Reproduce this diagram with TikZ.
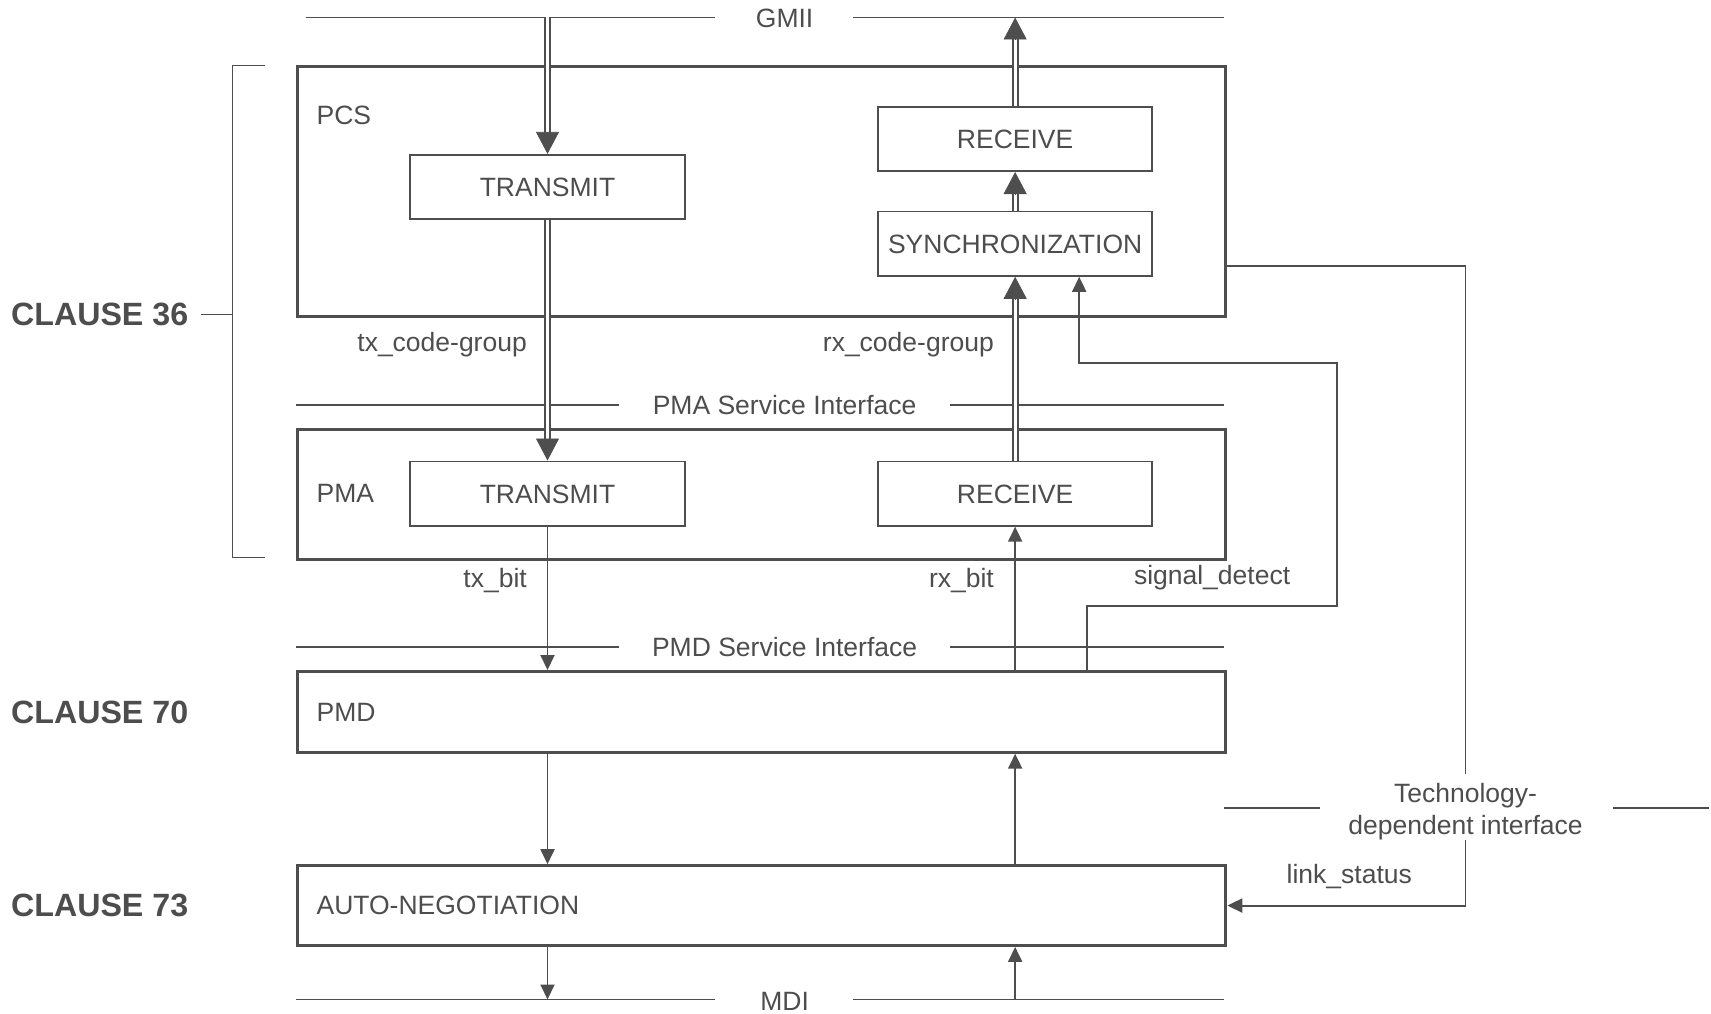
\documentclass[tikz,border=0pt]{standalone}
\usepackage{fontspec}
\setmainfont{Liberation Sans}
\usetikzlibrary{arrows.meta,calc}
\definecolor{lc}{RGB}{78,78,78}
\definecolor{tc}{RGB}{77,77,77}
\tikzset{
  txt/.style={text=tc, font=\fontsize{26.5}{32}\selectfont, inner sep=0pt, text height=19pt, text depth=0pt},
  clause/.style={text=tc, font=\fontsize{32.2}{36}\selectfont\bfseries, inner sep=0pt, text height=23pt, text depth=0pt, anchor=west},
  bigbox/.style={draw=lc, line width=3pt, anchor=north west, inner sep=0pt},
  smallbox/.style={txt, draw=lc, line width=1.8pt, anchor=north west, inner sep=0pt},
  ifl/.style={draw=lc, line width=1.6pt},
  conn/.style={draw=lc, line width=1.9pt},
  sarrow/.style={conn, -{Triangle[length=15pt,width=14pt]}},
  dbl/.style={draw=lc, line width=2pt, double=white, double distance=3pt},
  bigtip/.style={draw=lc, fill=lc, line width=0.8pt, -{Triangle[length=22pt,width=23pt]}}
}
\newcommand\dblarr[2]{\draw[dbl,shorten >=20pt] (#1) -- (#2); \draw[bigtip] ($(#2)!22pt!(#1)$) -- (#2);}
\begin{document}
\begin{tikzpicture}[x=1pt,y=-1pt]
\useasboundingbox (0,0) rectangle (1711,1014);

% main boxes
\node[bigbox, minimum width=928.6pt, minimum height=249.9pt] (pcs) at (295.7,65.5) {};
\node[bigbox, minimum width=928.6pt, minimum height=129.8pt] (pma) at (295.7,427.8) {};
\node[bigbox, minimum width=928.6pt, minimum height=80.7pt] (pmd) at (295.7,670) {};
\node[bigbox, minimum width=928.6pt, minimum height=79.7pt] (an) at (295.7,864.2) {};

% inner boxes
\node[smallbox, minimum width=275.2pt, minimum height=64.3pt] (pcstx) at (409,153.9) {TRANSMIT};
\node[smallbox, minimum width=273.9pt, minimum height=64.4pt] (pcsrx) at (877.3,105.8) {RECEIVE};
\node[smallbox, minimum width=273.9pt, minimum height=64.4pt] (sync) at (877.3,210.6) {SYNCHRONIZATION};
\node[smallbox, minimum width=275.2pt, minimum height=64.4pt] (pmatx) at (409,460.5) {TRANSMIT};
\node[smallbox, minimum width=273.9pt, minimum height=64.4pt] (pmarx) at (877.3,460.5) {RECEIVE};

% box labels
\node[txt,anchor=west] (lpcs) at (316.4,114.6) {PCS};
\node[txt,anchor=west] (lpma) at (316.4,493.2) {PMA};
\node[txt,anchor=west] (lpmd) at (316.4,711.5) {PMD};
\node[txt,anchor=west] (lan) at (316.4,904.6) {AUTO-NEGOTIATION};

% interfaces
\node[txt] (gmii) at (784.6,18) {GMII};
\node[txt] (pmasi) at (784.6,405) {PMA Service Interface};
\node[txt] (pmdsi) at (784.6,647) {PMD Service Interface};
\node[txt] (mdi) at (784.6,1001) {MDI};
\coordinate (gL1) at (305.5,17.5);  \coordinate (gL2) at (714.7,17.5);
\coordinate (gR1) at (853,17.5);    \coordinate (gR2) at (1224.3,17.5);
\coordinate (aL1) at (295.7,404.8); \coordinate (aL2) at (618.7,404.8);
\coordinate (aR1) at (950.4,404.8); \coordinate (aR2) at (1224.3,404.8);
\coordinate (dL1) at (295.7,647.1); \coordinate (dL2) at (618.7,647.1);
\coordinate (dR1) at (950.4,647.1); \coordinate (dR2) at (1224.3,647.1);
\coordinate (mL1) at (295.7,999.5); \coordinate (mL2) at (714.7,999.5);
\coordinate (mR1) at (853.3,999.5); \coordinate (mR2) at (1224.3,999.5);
\draw[ifl] (gL1) -- (gL2) (gR1) -- (gR2);
\draw[ifl] (aL1) -- (aL2) (aR1) -- (aR2);
\draw[ifl] (dL1) -- (dL2) (dR1) -- (dR2);
\draw[ifl] (mL1) -- (mL2) (mR1) -- (mR2);

% signal labels
\node[txt,anchor=east] (ltxcg) at (527,341.5) {tx\_code-group};
\node[txt,anchor=east] (lrxcg) at (994,341.5) {rx\_code-group};
\node[txt,anchor=east] (ltxb) at (527,578.3) {tx\_bit};
\node[txt,anchor=east] (lrxb) at (994,578.3) {rx\_bit};
\node[txt,anchor=west] (lsd) at (1133.8,575) {signal\_detect};
\node[txt,anchor=west] (lls) at (1286.5,873.5) {link\_status};

% clauses
\node[clause] (c36) at (10.9,314.3) {CLAUSE 36};
\node[clause] (c70) at (10.9,711.5) {CLAUSE 70};
\node[clause] (c73) at (10.9,904.6) {CLAUSE 73};
\coordinate (brT) at (265.2,65.5);
\coordinate (brB) at (265.2,557.6);
\coordinate (brM) at (232.4,314.3);
\coordinate (brS) at (200.8,314.3);
\draw[ifl] (brT) -- (232.4,65.5) -- (232.4,557.6) -- (brB);
\draw[ifl] (brS) -- (brM);

% double arrows
\coordinate (gtx) at (pcstx.north |- gL1);
\coordinate (grx) at (pcsrx.north |- gL1);
\dblarr{gtx}{pcstx.north}
\dblarr{pcsrx.north}{grx}
\dblarr{sync.north}{pcsrx.south}
\dblarr{pcstx.south}{pmatx.north}
\dblarr{pmarx.north}{sync.south}

% single arrows
\draw[sarrow] (pmatx.south) -- (pmatx.south |- pmd.north);
\draw[sarrow] (pmarx.south |- pmd.north) -- (pmarx.south);
\draw[sarrow] (pmatx.south |- pmd.south) -- (pmatx.south |- an.north);
\draw[sarrow] (pmarx.south |- an.north) -- (pmarx.south |- pmd.south);
\coordinate (mtx) at (pmatx.south |- mL1);
\coordinate (mrx) at (pmarx.south |- mL1);
\draw[sarrow] (pmatx.south |- an.south) -- (mtx);
\draw[sarrow] (mrx) -- (pmarx.south |- an.south);

% signal_detect
\coordinate (sdA) at (1086.8,606);
\coordinate (sdB) at (1336.7,363.4);
\coordinate (sdC) at (1079.2,363.4);
\draw[sarrow] (pmd.north -| sdA) -- (sdA) -| (sdB) -- (sdC) -- (sync.south -| sdC);

% technology-dependent interface
\node[text=tc, font=\fontsize{26.5}{32}\selectfont, align=center, inner sep=0pt, anchor=north] (tdi) at (1465.5,783) {Technology-\\dependent interface};
\coordinate (tdA) at (1465.5,266.3);
\draw[conn] (pcs.east |- tdA) -- (tdA) -- ([yshift=9pt]tdi.north);
\draw[sarrow] (tdi.south) |- (an.east);
\coordinate (tl1) at (1224.3,808); \coordinate (tl2) at (1320.4,808);
\coordinate (tr1) at (1612.8,808); \coordinate (tr2) at (1708.8,808);
\draw[ifl] (tl1) -- (tl2) (tr1) -- (tr2);
\end{tikzpicture}
\end{document}
